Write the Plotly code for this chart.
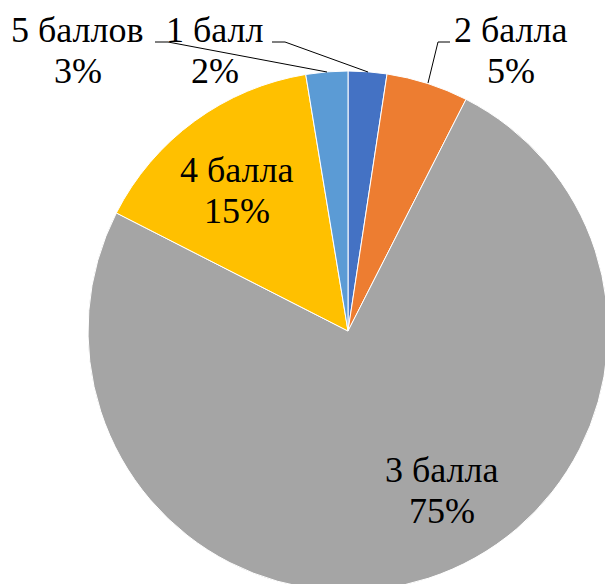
import plotly.graph_objects as go

labels = ["1 балл", "2 балла", "3 балла", "4 балла", "5 баллов"]
values = [2.4, 5.1, 75.0, 14.9, 2.6]
pct_text = ["2%", "5%", "75%", "15%", "3%"]
colors = ["#4472C4", "#ED7D31", "#A5A5A5", "#FFC000", "#5B9BD5"]

W, H = 620, 600
FONT = "Liberation Serif, Times New Roman, Times, serif"
FS = 36

def px(x):
    return x / W

def py(y):
    return 1 - y / H

cx, cy, r = 348, 331, 260

fig = go.Figure(go.Pie(
    labels=labels,
    values=values,
    sort=False,
    direction="clockwise",
    rotation=0,
    marker=dict(colors=colors, line=dict(color="white", width=1)),
    textinfo="none",
    hoverinfo="label+percent",
    showlegend=False,
    domain=dict(x=[px(cx - r), px(cx + r)], y=[py(cy + r), py(cy - r)]),
))

# pixel centers of text lines: x, label line y, percent line y
label_pos = {
    "1 балл": (215, 30, 71),
    "2 балла": (511, 30, 71),
    "3 балла": (442, 470, 511),
    "4 балла": (237, 170, 211),
    "5 баллов": (78, 30, 71),
}

annotations = []
for lab, pt in zip(labels, pct_text):
    x, y1, y2 = label_pos[lab]
    for txt, yy in ((lab, y1), (pt, y2)):
        annotations.append(dict(
            x=px(x), y=py(yy), xref="paper", yref="paper",
            text=txt, showarrow=False, xanchor="center", yanchor="middle",
            font=dict(family=FONT, size=FS, color="black"),
        ))

def path(pts):
    return "M " + " L ".join(f"{px(a)} {py(b)}" for a, b in pts)

leaders = [
    [(155, 42), (168, 42), (327, 72)],
    [(272, 42), (285, 42), (368, 72)],
    [(450, 42), (438, 42), (428, 83)],
]
shapes = [dict(type="path", xref="paper", yref="paper", path=path(p),
               line=dict(color="black", width=1)) for p in leaders]

fig.update_layout(
    width=W, height=H,
    margin=dict(l=0, r=0, t=0, b=0),
    paper_bgcolor="white",
    plot_bgcolor="white",
    font=dict(family=FONT),
    annotations=annotations,
    shapes=shapes,
)

fig.write_html(
    "out.html",
    config={"displayModeBar": False},
    post_script="document.body.style.margin='0';document.body.style.overflow='hidden';",
)
